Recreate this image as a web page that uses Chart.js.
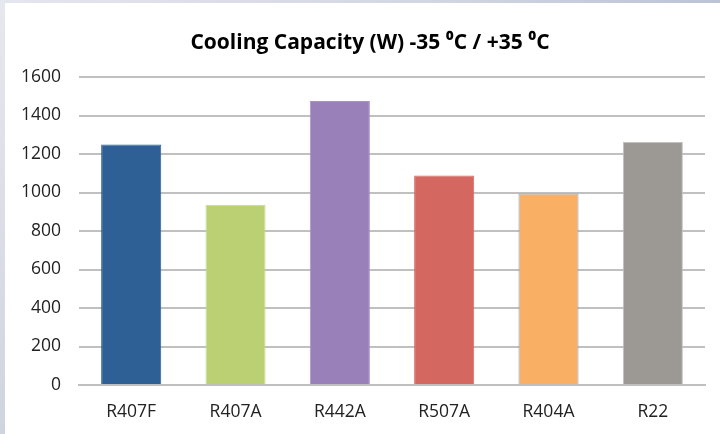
<!DOCTYPE html>
<html>
<head>
<meta charset="utf-8">
<script src="https://cdn.jsdelivr.net/npm/chart.js@4/dist/chart.umd.min.js"></script>
<style>
html,body{margin:0;padding:0;}
body{width:720px;height:434px;overflow:hidden;position:relative;
  background:linear-gradient(90deg,#e4e6ee 0%,#d2d6e2 60%,#bcc3d5 100%);}
.leftstrip{position:absolute;left:0;top:0;width:5px;height:434px;
  background:linear-gradient(180deg,#e6e8ef 0%,#d0d4df 100%);}
.wrap{position:absolute;left:5px;top:3px;width:715px;height:431px;background:#fff;}
canvas{display:block;}
</style>
</head>
<body>
<div class="leftstrip"></div>
<div class="wrap"><canvas id="chart" width="715" height="431"></canvas></div>
<script>
// refrigerants and the measured cooling capacity
const refrigerants=['R407F','R407A','R442A','R507A','R404A','R22'];
const capacity=[1250,936,1475,1088,995,1262];
const yTicks=[0,200,400,600,800,1000,1200,1400,1600];
const barColors=['#2e6096','#bbd073','#9a80b9','#d4675f','#f9b064','#9c9894'];
const barBorders=['#2e6096','#c8da90','#a893c4','#d4675f','#7ca6d8','#c4c2c0'];
const titleText='Cooling Capacity (W) -35 \u2070C / +35 \u2070C';

const ctx=document.getElementById('chart').getContext('2d');

// title is drawn by hand, excel centres it a bit left of the plot
const titlePlugin={
  id:'xlTitle',
  afterDraw(chart){
    const c=chart.ctx;
    c.save();
    c.font='bold 21px "Open Sans"';
    c.fillStyle='#000';
    c.textAlign='center';
    c.textBaseline='middle';
    c.fillText(titleText,365,40);
    c.restore();
  }
};

new Chart(ctx,{
  type:'bar',
  data:{
    labels:refrigerants,
    datasets:[{
      data:capacity,
      backgroundColor:barColors,
      borderColor:barBorders,
      borderWidth:1,
      barPercentage:0.576,
      categoryPercentage:1
    }]
  },
  options:{
    responsive:false,
    animation:false,
    layout:{padding:{left:-2,right:15,top:74,bottom:-6}},
    plugins:{
      legend:{display:false},
      tooltip:{enabled:false},
      title:{display:false}
    },
    scales:{
      x:{
        grid:{display:false,drawTicks:false},
        border:{display:true,color:'#bfbfbf',width:2},
        ticks:{color:'#222',padding:17,font:{family:'Open Sans',size:17.5}}
      },
      y:{
        min:yTicks[0],max:yTicks[yTicks.length-1],
        grid:{color:'#c0c0c0',lineWidth:2,drawTicks:false},
        border:{display:false},
        afterBuildTicks:s=>{s.ticks=yTicks.map(v=>({value:v}));},
        ticks:{color:'#222',padding:18,font:{family:'Open Sans',size:17.5},
          callback:v=>String(v)}
      }
    }
  },
  plugins:[titlePlugin]
});
</script>
</body>
</html>
